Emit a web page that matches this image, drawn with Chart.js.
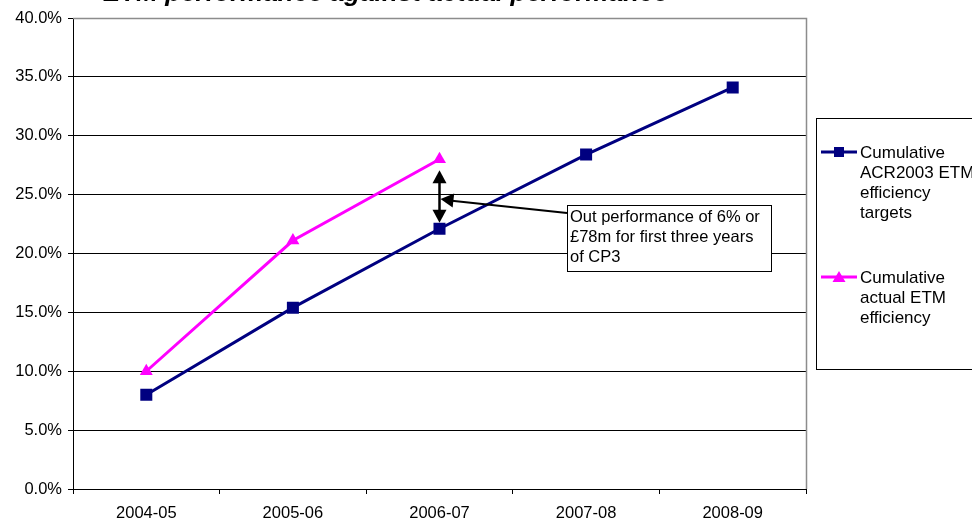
<!DOCTYPE html>
<html>
<head>
<meta charset="utf-8">
<script src="https://cdn.jsdelivr.net/npm/chart.js@4"></script>
<style>
  html, body { margin: 0; padding: 0; background: #fff; }
  #wrap { width: 972px; height: 518px; position: relative; overflow: hidden; }
  canvas { display: block; }
</style>
</head>
<body>
<div id="wrap"><canvas id="chart" width="972" height="518"></canvas></div>
<script>
// Financial years of the control period
const years = ['2004-05', '2005-06', '2006-07', '2007-08', '2008-09'];
// Cumulative ACR2003 ETM efficiency targets (fraction)
const targetEfficiency = [0.080, 0.154, 0.221, 0.284, 0.341];
// Cumulative actual ETM efficiency achieved so far (fraction)
const actualEfficiency = [0.100, 0.211, 0.280];
// Y axis tick range and step
const yTickMin = 0;
const yTickMax = 0.40;
const yTickStep = 0.05;

const chartTitle = 'ETM performance against actual performance';
const targetLegend = ['Cumulative', 'ACR2003 ETM', 'efficiency', 'targets'];
const actualLegend = ['Cumulative', 'actual ETM', 'efficiency'];
const noteLines = ['Out performance of 6% or', '\u00a378m for first three years', 'of CP3'];

const FONT = 'Arial, "Liberation Sans", sans-serif';
const NAVY = '#000080';
const MAGENTA = '#FF00FF';

function arrowHead(ctx, x1, y1, x2, y2, len, half) {
  const a = Math.atan2(y2 - y1, x2 - x1);
  ctx.beginPath();
  ctx.moveTo(x2, y2);
  ctx.lineTo(x2 - len * Math.cos(a) + half * Math.sin(a), y2 - len * Math.sin(a) - half * Math.cos(a));
  ctx.lineTo(x2 - len * Math.cos(a) - half * Math.sin(a), y2 - len * Math.sin(a) + half * Math.cos(a));
  ctx.closePath();
  ctx.fill();
}

const decorations = {
  id: 'decorations',
  beforeDatasetsDraw(chart) {
    // grey plot-area frame along the top and right edges
    const { ctx, chartArea: a } = chart;
    ctx.save();
    ctx.strokeStyle = '#8c8c8c';
    ctx.lineWidth = 1.5;
    ctx.beginPath();
    ctx.moveTo(a.left, a.top + 0.5);
    ctx.lineTo(a.right + 0.5, a.top + 0.5);
    ctx.lineTo(a.right + 0.5, a.bottom);
    ctx.stroke();
    ctx.restore();
  },
  afterDraw(chart) {
    const { ctx, scales } = chart;
    const xs = scales.x, ys = scales.y;
    ctx.save();

    // title, mostly above the visible canvas
    ctx.font = 'italic bold 26px ' + FONT;
    ctx.fillStyle = '#000';
    ctx.textAlign = 'right';
    ctx.textBaseline = 'alphabetic';
    ctx.fillText(chartTitle, 668, 1);

    // double-headed arrow spanning the gap at 2006-07
    const gx = xs.getPixelForValue(2);
    const topY = ys.getPixelForValue(actualEfficiency[2]) + 11;
    const botY = ys.getPixelForValue(targetEfficiency[2]) - 6;
    ctx.strokeStyle = '#000';
    ctx.fillStyle = '#000';
    ctx.lineWidth = 2.5;
    ctx.beginPath();
    ctx.moveTo(gx, topY + 10);
    ctx.lineTo(gx, botY - 10);
    ctx.stroke();
    arrowHead(ctx, gx, botY, gx, topY, 13, 7);
    arrowHead(ctx, gx, topY, gx, botY, 13, 7);

    // note box with pointer arrow
    const bx = 567, by = 205, bw = 204, bh = 66;
    ctx.lineWidth = 2;
    ctx.beginPath();
    ctx.moveTo(bx, by + 8);
    ctx.lineTo(gx + 10, 200.5);
    ctx.stroke();
    arrowHead(ctx, bx, by + 8, gx + 1, 199, 13, 7);

    ctx.fillStyle = '#fff';
    ctx.fillRect(bx, by, bw, bh);
    ctx.lineWidth = 1;
    ctx.strokeStyle = '#000';
    ctx.strokeRect(bx + 0.5, by + 0.5, bw, bh);
    ctx.fillStyle = '#000';
    ctx.font = '16.5px ' + FONT;
    ctx.textAlign = 'left';
    ctx.textBaseline = 'middle';
    noteLines.forEach((t, i) => ctx.fillText(t, bx + 3, by + 12 + i * 20));

    // legend box, running off the right edge
    ctx.strokeStyle = '#000';
    ctx.lineWidth = 1;
    ctx.strokeRect(816.5, 118.5, 200, 251);

    const entries = [
      { lines: targetLegend, color: NAVY, y: 152, marker: 'square' },
      { lines: actualLegend, color: MAGENTA, y: 277, marker: 'triangle' }
    ];
    entries.forEach(e => {
      ctx.strokeStyle = e.color;
      ctx.fillStyle = e.color;
      ctx.lineWidth = 3;
      ctx.beginPath();
      ctx.moveTo(821, e.y);
      ctx.lineTo(857, e.y);
      ctx.stroke();
      if (e.marker === 'square') {
        ctx.fillRect(834, e.y - 5, 10, 10);
      } else {
        ctx.beginPath();
        ctx.moveTo(839, e.y - 6);
        ctx.lineTo(845.5, e.y + 5);
        ctx.lineTo(832.5, e.y + 5);
        ctx.closePath();
        ctx.fill();
      }
      ctx.fillStyle = '#000';
      ctx.font = '17px ' + FONT;
      ctx.textAlign = 'left';
      ctx.textBaseline = 'middle';
      e.lines.forEach((t, i) => ctx.fillText(t, 860, e.y + 1 + i * 20));
    });
    ctx.restore();
  }
};

new Chart(document.getElementById('chart'), {
  type: 'line',
  data: {
    labels: years,
    datasets: [
      {
        label: targetLegend.join(' '),
        data: targetEfficiency,
        borderColor: NAVY,
        backgroundColor: NAVY,
        borderWidth: 3,
        pointStyle: 'rect',
        pointRadius: 8.5,
        pointBorderWidth: 0,
        tension: 0
      },
      {
        label: actualLegend.join(' '),
        data: actualEfficiency,
        borderColor: MAGENTA,
        backgroundColor: MAGENTA,
        borderWidth: 3,
        pointStyle: 'triangle',
        pointRadius: 7.5,
        pointBorderWidth: 0,
        tension: 0
      }
    ]
  },
  options: {
    responsive: false,
    animation: false,
    devicePixelRatio: 1,
    layout: { padding: { top: 18, right: 166, left: 0, bottom: 0 } },
    plugins: {
      legend: { display: false },
      title: { display: false },
      tooltip: { enabled: false }
    },
    scales: {
      x: {
        type: 'category',
        offset: true,
        grid: {
          offset: true,
          drawOnChartArea: false,
          drawTicks: true,
          tickLength: 5,
          color: '#000'
        },
        border: { color: '#000', width: 1 },
        ticks: { color: '#000', font: { family: FONT, size: 16.5 }, padding: 10, maxRotation: 0 },
        afterFit(s) { s.height = 29; }
      },
      y: {
        min: yTickMin,
        max: yTickMax,
        ticks: {
          stepSize: yTickStep,
          color: '#000',
          font: { family: FONT, size: 16.5 },
          padding: 6,
          callback: v => (v * 100).toFixed(1) + '%'
        },
        grid: {
          color: ctx => (ctx.tick && Math.abs(ctx.tick.value - yTickMax) < 1e-9) ? 'rgba(0,0,0,0)' : '#000',
          tickColor: '#000',
          tickLength: 5,
          drawTicks: true
        },
        border: { color: '#000', width: 1 },
        afterFit(s) { s.width = 73; }
      }
    }
  },
  plugins: [decorations]
});
</script>
</body>
</html>
